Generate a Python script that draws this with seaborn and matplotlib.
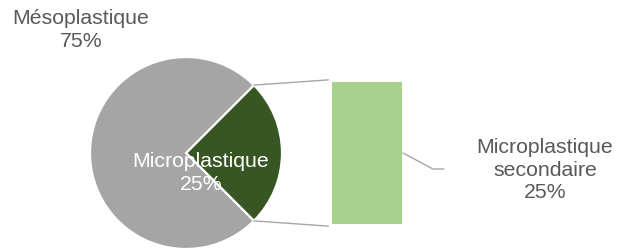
import matplotlib
matplotlib.use("Agg")
import matplotlib.pyplot as plt
from matplotlib.patches import ConnectionPatch
from matplotlib.lines import Line2D
import seaborn as sns
import pandas as pd
import numpy as np

# === Données
pie_labels = ["Microplastique", "Mésoplastique"]
pie_values = [25, 75]
pie_colors = ["#375623", "#A5A5A5"]

bar_labels = ["Microplastique secondaire"]
bar_values = [25]
bar_color = "#A9D18E"

# === Style
sns.set_style("white")
plt.rcParams["font.family"] = ["Liberation Sans", "DejaVu Sans"]
GRIS = "#595959"
FS = 15.3
LS = 1.22

W, H = 632, 248
fig = plt.figure(figsize=(W / 100, H / 100), dpi=100)

# --- Camembert principal
cx, cy, r = 186, 153, 96
ax_pie = fig.add_axes([(cx - r) / W, (H - cy - r) / H, 2 * r / W, 2 * r / H])
wedges, _ = ax_pie.pie(pie_values, colors=pie_colors, startangle=-45, counterclock=True,
                       wedgeprops=dict(edgecolor="white", linewidth=1.6))
ax_pie.set_xlim(-1, 1)
ax_pie.set_ylim(-1, 1)
ax_pie.set_aspect("equal")
ax_pie.axis("off")
for w in wedges:
    w.set_clip_on(False)

# --- Barre de détail
bx0, bx1, by0, by1 = 332, 402, 82, 224
ax_bar = fig.add_axes([bx0 / W, (H - by1) / H, (bx1 - bx0) / W, (by1 - by0) / H])
df_bar = pd.DataFrame({"cat": bar_labels, "val": bar_values})
sns.barplot(data=df_bar, x="cat", y="val", color=bar_color, width=1.0, ax=ax_bar,
            saturation=1, edgecolor="none")
ax_bar.set_xlim(-0.5, 0.5)
ax_bar.set_ylim(0, sum(bar_values))
ax_bar.axis("off")

# --- Lignes de liaison
ang = np.deg2rad(45)
for sgn, ya in [(1, 1.015), (-1, -0.015)]:
    con = ConnectionPatch(xyA=(np.cos(ang) * 1.0, sgn * np.sin(ang) * 1.0), coordsA=ax_pie.transData,
                          xyB=(-0.05, ya), coordsB=ax_bar.transAxes,
                          color="#A6A6A6", linewidth=1.0)
    fig.add_artist(con)

# --- Étiquettes
fig.text(81 / W, 1 - 30 / H, f"{pie_labels[1]}\n{pie_values[1]}%", ha="center", va="center",
         fontsize=FS, color=GRIS, linespacing=LS)
fig.text(201 / W, 1 - 173 / H, f"{pie_labels[0]}\n{pie_values[0]}%", ha="center", va="center",
         fontsize=FS, color="white", linespacing=LS)

lab = bar_labels[0].replace(" ", "\n")
fig.text(545 / W, 1 - 170 / H, f"{lab}\n{bar_values[0]}%", ha="center", va="center",
         fontsize=FS, color=GRIS, linespacing=LS)

# ligne de rappel
fig.add_artist(Line2D([403 / W, 433 / W, 444 / W], [1 - 153 / H, 1 - 169 / H, 1 - 169 / H],
                      transform=fig.transFigure, color="#A6A6A6", linewidth=1.0))

fig.savefig("out.png", dpi=100)
